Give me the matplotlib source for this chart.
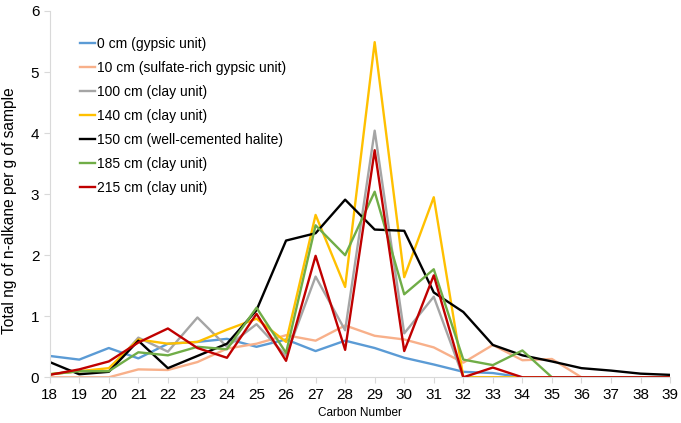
import matplotlib
matplotlib.use('Agg')
import matplotlib.pyplot as plt

plt.rcParams['font.family'] = ['Liberation Sans', 'DejaVu Sans']

carbon = list(range(18, 40))

cm0 = [0.35, 0.29, 0.48, 0.31, 0.55, 0.58, 0.63, 0.50, 0.62, 0.43, 0.60, 0.48, 0.32, 0.21,
       0.09, 0.07, 0.0, 0.0, 0.0, 0.0, 0.0, 0.0]
cm10 = [0.0, 0.0, 0.0, 0.13, 0.12, 0.25, 0.47, 0.55, 0.69, 0.60, 0.85, 0.68, 0.62, 0.49,
        0.24, 0.53, 0.28, 0.30, 0.0, 0.0, 0.0, 0.0]
cm100 = [0.05, 0.10, 0.10, 0.65, 0.42, 0.98, 0.50, 0.87, 0.35, 1.65, 0.77, 4.04, 0.72, 1.32,
         0.0, 0.0, 0.0, 0.0, 0.0, 0.0, 0.0, 0.0]
cm140 = [0.05, 0.10, 0.15, 0.62, 0.55, 0.58, 0.78, 0.96, 0.58, 2.66, 1.48, 5.49, 1.64, 2.95,
         0.0, 0.0, 0.0, 0.0, 0.0, 0.0, 0.0, 0.0]
cm150 = [0.25, 0.05, 0.09, 0.60, 0.15, 0.35, 0.55, 1.10, 2.24, 2.36, 2.91, 2.42, 2.40, 1.39,
         1.07, 0.53, 0.36, 0.26, 0.15, 0.11, 0.06, 0.04]
cm185 = [0.05, 0.10, 0.10, 0.41, 0.36, 0.50, 0.46, 1.14, 0.40, 2.49, 2.00, 3.04, 1.36, 1.77,
         0.29, 0.20, 0.44, 0.0, 0.0, 0.0, 0.0, 0.0]
cm215 = [0.04, 0.13, 0.26, 0.57, 0.80, 0.48, 0.32, 1.04, 0.27, 1.99, 0.45, 3.72, 0.43, 1.67,
         0.0, 0.16, 0.0, 0.0, 0.0, 0.0, 0.0, 0.0]

series = [
    ('0 cm (gypsic unit)', cm0, '#5B9BD5'),
    ('10 cm (sulfate-rich gypsic unit)', cm10, '#F8B08A'),
    ('100 cm (clay unit)', cm100, '#A5A5A5'),
    ('140 cm (clay unit)', cm140, '#FFC000'),
    ('150 cm (well-cemented halite)', cm150, '#000000'),
    ('185 cm (clay unit)', cm185, '#70AD47'),
    ('215 cm (clay unit)', cm215, '#C00000'),
]

fig = plt.figure(figsize=(6.81, 4.23), dpi=100)
ax = fig.add_axes([0.073, 0.108, 0.911, 0.866])

for label, vals, col in series:
    ax.plot(carbon, vals, color=col, lw=1.7, label=label)

ax.set_xlim(18, 39)
ax.set_ylim(0, 6)
ax.set_xticks(carbon)
ax.set_yticks(range(0, 7))
ax.tick_params(axis='both', colors='#d9d9d9', labelcolor='black', labelsize=11, length=4, width=0.8)
for side in ['top', 'right']:
    ax.spines[side].set_visible(False)
for side in ['left', 'bottom']:
    ax.spines[side].set_color('#d9d9d9')
    ax.spines[side].set_linewidth(0.8)

ax.set_xlabel('Carbon Number', fontsize=8.5, labelpad=4)
ax.set_ylabel('Total ng of n-alkane per g of sample', fontsize=11.2)
ax.yaxis.set_label_coords(-0.053, 0.455)

ax.legend(loc='upper left', bbox_to_anchor=(0.04, 0.945), frameon=False, fontsize=10,
          handlelength=1.1, handletextpad=0.1, labelspacing=0.72, borderaxespad=0)

fig.savefig('out.png', dpi=100)
